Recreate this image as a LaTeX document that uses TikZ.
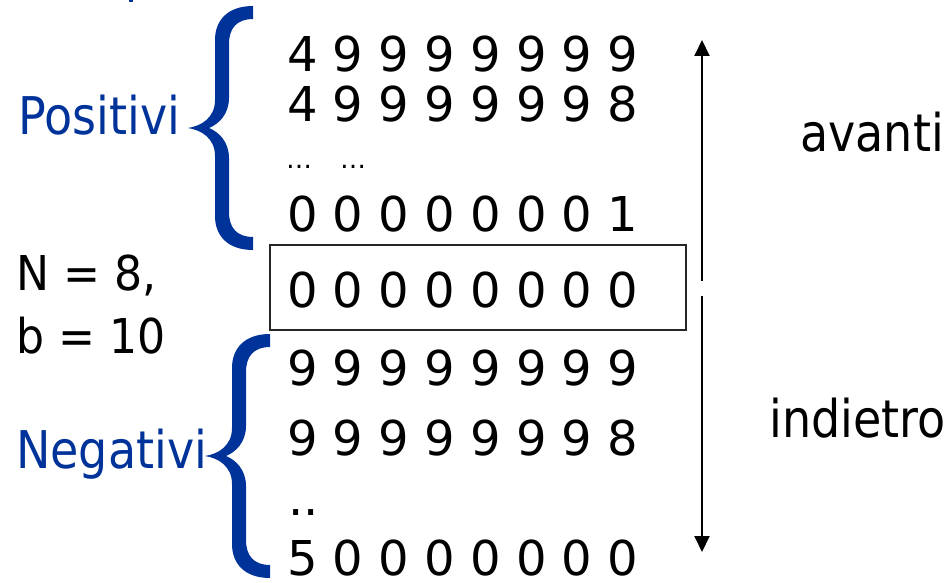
\documentclass[tikz,border=0pt]{standalone}
\usepackage{fontspec}
\setmainfont{DejaVu Sans}
\newfontfamily\labelfont[FakeStretch=0.885]{DejaVu Sans}
\newfontfamily\paramfont[FakeStretch=0.92]{DejaVu Sans}
\usetikzlibrary{arrows.meta}
\definecolor{braceblue}{RGB}{0,51,153}

\tikzset{
  digits/.style={anchor=base west, inner sep=0pt, font=\fontsize{48}{48}\selectfont},
  smalldots/.style={anchor=base west, inner sep=0pt, font=\fontsize{26}{26}\selectfont},
  bluelabel/.style={anchor=base west, inner sep=0pt, text=braceblue,
    font=\labelfont\fontsize{52}{52}\selectfont},
  blacklabel/.style={anchor=base west, inner sep=0pt,
    font=\labelfont\fontsize{52}{52}\selectfont},
  paramlabel/.style={anchor=base west, inner sep=0pt,
    font=\paramfont\fontsize{48}{48}\selectfont},
  zerobox/.style={draw=black!85, line width=1.4pt, minimum width=416pt,
    minimum height=85pt, inner sep=0pt},
  dirarrow/.style={line width=2pt, -{Triangle[length=16pt,width=15pt]}},
  curlybrace/.pic={
    \fill[braceblue]
      (0,0) .. controls (-25,0) and (-38,14) .. (-38,34)
      -- (-38,94)
      .. controls (-38,112) and (-52,120) .. (-65,122)
      .. controls (-52,124) and (-38,132) .. (-38,150)
      -- (-38,210)
      .. controls (-38,230) and (-25,244) .. (0,244)
      -- (0,231)
      .. controls (-16,231) and (-24,222) .. (-24,206)
      -- (-24,152)
      .. controls (-24,136) and (-34,126) .. (-44,122)
      .. controls (-34,118) and (-24,108) .. (-24,92)
      -- (-24,38)
      .. controls (-24,22) and (-16,13) .. (0,13)
      -- cycle;
  }
}

\begin{document}
\begin{tikzpicture}[x=1pt, y=-1pt]
\useasboundingbox (0,0) rectangle (951,583);

% fragment of a heading cut by the top edge
\fill[braceblue] (129,0) rectangle (133,2.5);

% braces
\pic (posbrace) at (253,6) {curlybrace};
\pic (negbrace) at (270,334) {curlybrace};

% group labels
\node[bluelabel] (pos) at (18,135) {Positivi};
\node[bluelabel] (neg) at (16,468) {Negativi};
\node[paramlabel] (nn) at (16,290) {N = 8,};
\node[paramlabel] (bb) at (16,353) {b = 10};

% zero, framed
\node[zerobox] (box) at (478,287.5) {};

% the numbers
\node[digits] (p1) at (287,72)  {4 9 9 9 9 9 9 9};
\node[digits] (p2) at (287,122) {4 9 9 9 9 9 9 8};
\node[smalldots] (pd) at (286,168) {…\hspace{28pt}…};
\node[digits] (p3) at (287,231) {0 0 0 0 0 0 0 1};
\node[digits] (z0) at (287,307) {0 0 0 0 0 0 0 0};
\node[digits] (n1) at (287,385) {9 9 9 9 9 9 9 9};
\node[digits] (n2) at (287,455) {9 9 9 9 9 9 9 8};
\node[digits] (nd) at (288,515) {..};
\node[digits] (n3) at (287,575.5) {5 0 0 0 0 0 0 0};

% direction arrows
\coordinate (upfrom) at (702,281);
\coordinate (upto) at (702,40);
\coordinate (downfrom) at (702,296);
\coordinate (downto) at (702,552);
\draw[dirarrow] (upfrom) -- (upto);
\draw[dirarrow] (downfrom) -- (downto);

\node[blacklabel] (fwd) at (800,152) {avanti};
\node[blacklabel] (bwd) at (769,437) {indietro};
\end{tikzpicture}
\end{document}
